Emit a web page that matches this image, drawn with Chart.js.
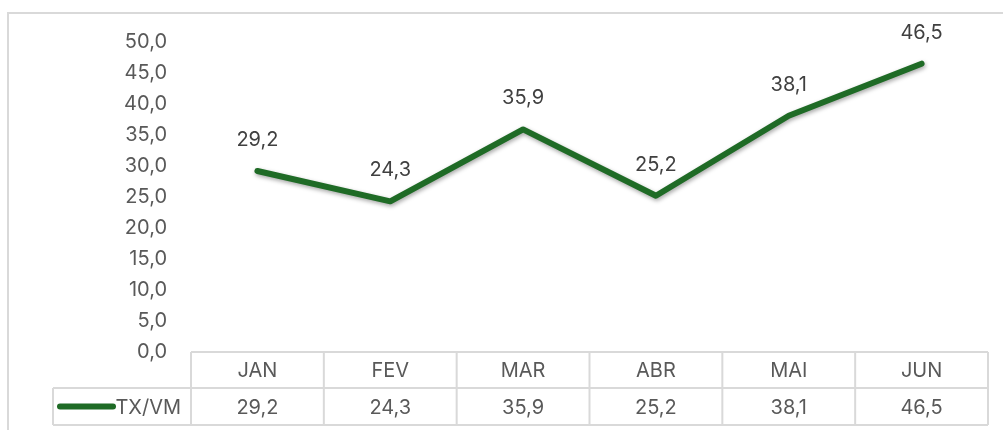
<!DOCTYPE html>
<html>
<head>
<meta charset="utf-8">
<script src="https://cdn.jsdelivr.net/npm/chart.js@4.4.0/dist/chart.umd.min.js"></script>
<style>
  body { margin: 0; background: #fff; }
  #wrap { width: 1003px; height: 430px; }
</style>
</head>
<body>
<div id="wrap"><canvas id="txChart" width="1003" height="430"></canvas></div>
<script>
// data
const months = ['JAN', 'FEV', 'MAR', 'ABR', 'MAI', 'JUN'];
const txVm = [29.2, 24.3, 35.9, 25.2, 38.1, 46.5];
const seriesName = 'TX/VM';

const GREEN = '#1f6b26';
const GRID = '#d9d9d9';
const FONT = 'Inter, sans-serif';
const FSIZE = 20;

const fmt = (v) => v.toFixed(1).replace('.', ',');

// border + line shadow + labels + data table
const tablePlugin = {
  id: 'tablePlugin',
  beforeDraw(chart) {
    const ctx = chart.ctx;
    ctx.save();
    ctx.strokeStyle = GRID;
    ctx.lineWidth = 2;
    ctx.beginPath();
    ctx.moveTo(8, 430);
    ctx.lineTo(8, 13);
    ctx.lineTo(1003, 13);
    ctx.stroke();
    ctx.restore();
  },
  beforeDatasetDraw(chart) {
    const ctx = chart.ctx;
    ctx.save();
    ctx.shadowColor = 'rgba(0,0,0,0.35)';
    ctx.shadowBlur = 4;
    ctx.shadowOffsetX = 1;
    ctx.shadowOffsetY = 2;
  },
  afterDatasetDraw(chart) {
    chart.ctx.restore();
  },
  afterDraw(chart) {
    const ctx = chart.ctx;
    const x = chart.scales.x;
    const area = chart.chartArea;
    const meta = chart.getDatasetMeta(0);
    const half = (x.getPixelForValue(1) - x.getPixelForValue(0)) / 2;
    const top = area.bottom;
    const mid = top + 36;
    const bot = mid + 37;
    const legendLeft = 53;

    ctx.save();
    // point labels
    ctx.font = FSIZE + 'px ' + FONT;
    ctx.fillStyle = '#404040';
    ctx.textAlign = 'center';
    ctx.textBaseline = 'middle';
    meta.data.forEach((pt, i) => {
      ctx.fillText(fmt(txVm[i]), pt.x, pt.y - 31);
    });

    // table lines
    ctx.strokeStyle = GRID;
    ctx.lineWidth = 2;
    ctx.beginPath();
    ctx.moveTo(area.left, top);
    ctx.lineTo(area.right, top);
    ctx.moveTo(legendLeft, mid);
    ctx.lineTo(area.right, mid);
    ctx.moveTo(legendLeft, bot);
    ctx.lineTo(area.right, bot);
    ctx.moveTo(legendLeft, mid);
    ctx.lineTo(legendLeft, bot);
    for (let i = 0; i <= months.length; i++) {
      const px = x.getPixelForValue(0) - half + i * half * 2;
      ctx.moveTo(px, top);
      ctx.lineTo(px, bot);
    }
    ctx.stroke();

    // table text
    ctx.fillStyle = '#595959';
    months.forEach((m, i) => {
      const px = x.getPixelForValue(i);
      ctx.fillText(m, px, (top + mid) / 2 + 1);
      ctx.fillText(fmt(txVm[i]), px, (mid + bot) / 2 + 1);
    });

    // legend key
    ctx.textAlign = 'right';
    ctx.fillText(seriesName, area.left - 10, (mid + bot) / 2 + 1);
    ctx.strokeStyle = GREEN;
    ctx.lineWidth = 6;
    ctx.lineCap = 'round';
    ctx.beginPath();
    ctx.moveTo(60, (mid + bot) / 2);
    ctx.lineTo(113, (mid + bot) / 2);
    ctx.stroke();
    ctx.restore();
  }
};

const ctx = document.getElementById('txChart').getContext('2d');
const txChart = new Chart(ctx, {
  type: 'line',
  data: {
    labels: months,
    datasets: [
      {
        label: seriesName,
        data: txVm,
        borderColor: GREEN,
        borderWidth: 6,
        borderCapStyle: 'round',
        borderJoinStyle: 'round',
        pointRadius: 0,
        tension: 0,
      },
    ],
  },
  options: {
    responsive: false,
    animation: false,
    layout: {
      padding: { top: 42, right: 15, bottom: 78, left: 0 },
    },
    plugins: {
      legend: { display: false },
      tooltip: { enabled: false },
    },
    scales: {
      x: {
        display: false,
        offset: true,
      },
      y: {
        min: 0,
        max: 50,
        grid: { display: false, drawTicks: false },
        border: { display: false },
        afterFit: (scale) => { scale.width = 191; },
        ticks: {
          stepSize: 5,
          padding: 24,
          color: '#595959',
          font: { family: FONT, size: FSIZE },
          callback: (v) => fmt(v),
        },
      },
    },
  },
  plugins: [tablePlugin],
});
</script>
</body>
</html>
